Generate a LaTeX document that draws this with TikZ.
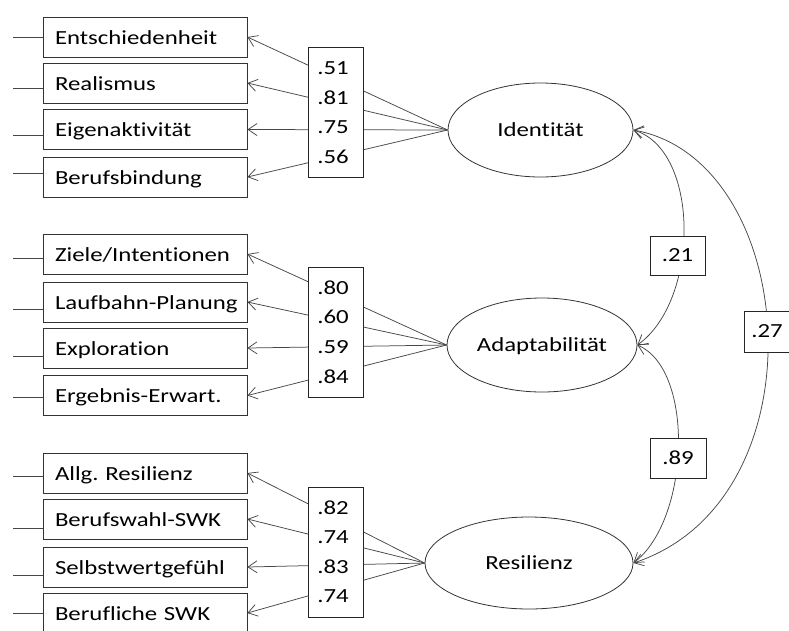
\documentclass[tikz,border=0pt]{standalone}
\usepackage{fontspec}
\setmainfont{Carlito}[FakeStretch=1.24, Ligatures=NoCommon]
\usetikzlibrary{shapes.geometric,arrows.meta}
\begin{document}
\frenchspacing
\begin{tikzpicture}[x=1pt,y=-1pt,
  font=\fontsize{20}{24}\selectfont,
  ind/.style={draw=black!80, line width=0.8pt, minimum height=40pt, text width=180pt,
    inner xsep=12pt, inner ysep=0pt, align=left, text height=14pt, text depth=0pt},
  lat/.style={ellipse, draw=black!80, line width=0.8pt, inner sep=0pt, text height=12pt, text depth=0pt},
  ldbox/.style={draw=black!85, fill=white, line width=0.8pt, minimum width=55pt, minimum height=130pt, inner sep=0pt},
  num/.style={inner sep=0pt},
  covbox/.style={draw=black!85, fill=white, line width=0.8pt, inner sep=0pt},
  conn/.style={draw=black!72, line width=0.75pt},
  tip/.style={-{Straight Barb[length=9pt,width=12pt]}},
  both/.style={{Straight Barb[length=9pt,width=12pt]}-{Straight Barb[length=9pt,width=12pt]}}]
\useasboundingbox (0,0) rectangle (789,630);

% latent variables
\node[lat, minimum width=185pt, minimum height=94pt] (id) at (540.5,130) {Identität};
\node[lat, minimum width=190pt, minimum height=94pt] (ad) at (542,345) {Adaptabilität};
\node[lat, minimum width=208pt, minimum height=92pt] (re) at (529,563) {Resilienz};

% indicators
\foreach \n/\t/\y/\o/\l in {
  a1/Entschiedenheit/37/0/id, a2/Realismus/83/5/id, a3/Eigenaktivität/129.5/5.5/id, a4/Berufsbindung/177/-4/id,
  b1/{Ziele/Intentionen}/254/4/ad, b2/Laufbahn-Planung/302/7/ad, b3/Exploration/348/8/ad, b4/Ergebnis-Erwart./395.5/1.5/ad,
  c1/Allg. Resilienz/473/3/re, c2/Berufswahl-SWK/519/9/re, c3/Selbstwertgefühl/567/8/re, c4/Berufliche SWK/613/0/re}
{
  \node[ind] (\n) at (145,\y) {\mbox{\t}};
  \draw[conn] ([yshift=-\o pt]\n.west) -- ++(-30pt,0);
  \draw[conn,tip] (\l.west) -- (\n.east);
}

% loading boxes
\foreach \g/\c/\va/\vb/\vc/\vd in {g1/112.5/.51/.81/.75/.56, g2/332/.80/.60/.59/.84, g3/552/.82/.74/.83/.74}
{
  \node[ldbox] (\g) at (335.5,\c) {};
  \node[num] (\g a) at (333,\c-44.25) {\va};
  \node[num] (\g b) at (333,\c-14.75) {\vb};
  \node[num] (\g c) at (333,\c+14.75) {\vc};
  \node[num] (\g d) at (333,\c+44.25) {\vd};
}

% covariances
\draw[conn,both] (id.east) .. controls (700,150) and (700,300) .. (ad.east);
\draw[conn,both] (ad.east) .. controls (695,370) and (690,520) .. (re.east);
\draw[conn,both] (id.east) .. controls (800,160) and (825,500) .. (re.east);

\node[covbox, minimum width=55pt, minimum height=39pt] (k21) at (677.5,255.5) {.21};
\node[covbox, minimum width=56pt, minimum height=40pt] (k89) at (678,458) {.89};
\node[covbox, minimum width=46pt, minimum height=41pt] (k27) at (767,331.5) {.27};
\end{tikzpicture}
\end{document}
